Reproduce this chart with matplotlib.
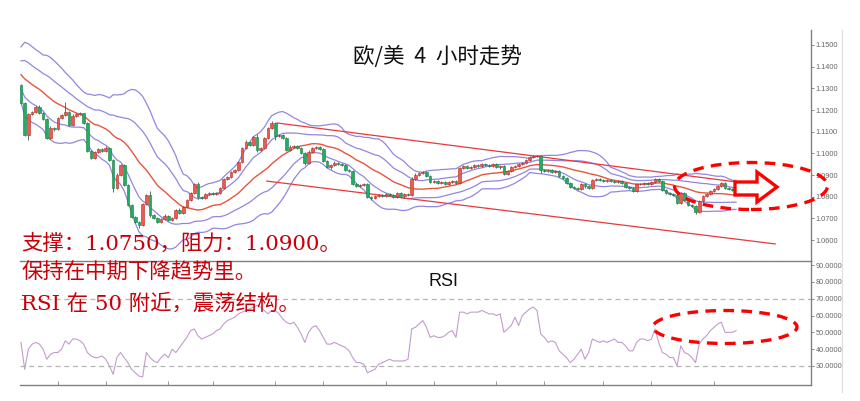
import matplotlib
matplotlib.use('Agg')
import matplotlib.pyplot as plt
from matplotlib.patches import Ellipse, Polygon
from matplotlib.lines import Line2D
import numpy as np
import pandas as pd

# EUR/USD 4h closes, one per candle
first_open = 1.1315
closes = [
    1.1232, 1.1085, 1.1182, 1.1191, 1.1214, 1.1186, 1.1159, 1.1071, 1.1117, 1.1112,
    1.1163, 1.1177, 1.1191, 1.1131, 1.1172, 1.1182, 1.1185, 1.1140, 1.1011, 1.0979,
    1.1006, 1.1020, 1.1011, 1.1025, 1.0969, 1.0840, 1.0900, 1.0946, 1.0854, 1.0762,
    1.0706, 1.0683, 1.0669, 1.0765, 1.0808, 1.0715, 1.0702, 1.0683, 1.0697, 1.0711,
    1.0692, 1.0702, 1.0739, 1.0725, 1.0752, 1.0785, 1.0817, 1.0859, 1.0799, 1.0794,
    1.0812, 1.0817, 1.0812, 1.0817, 1.0840, 1.0882, 1.0891, 1.0914, 1.0923, 1.0960,
    1.1025, 1.1052, 1.1039, 1.1075, 1.1015, 1.1025, 1.1071, 1.1117, 1.1140, 1.1080,
    1.1085, 1.1071, 1.1015, 1.1029, 1.1034, 1.1025, 1.1002, 1.0955, 1.1006, 1.1025,
    1.1029, 1.1020, 1.0965, 1.0937, 1.0946, 1.0955, 1.0951, 1.0946, 1.0923, 1.0919,
    1.0859, 1.0849, 1.0854, 1.0859, 1.0799, 1.0794, 1.0803, 1.0808, 1.0803, 1.0812,
    1.0808, 1.0799, 1.0817, 1.0803, 1.0812, 1.0808, 1.0882, 1.0900, 1.0909, 1.0914,
    1.0895, 1.0868, 1.0872, 1.0863, 1.0868, 1.0859, 1.0868, 1.0872, 1.0863, 1.0932,
    1.0942, 1.0932, 1.0937, 1.0946, 1.0942, 1.0951, 1.0946, 1.0942, 1.0951, 1.0937,
    1.0942, 1.0905, 1.0919, 1.0937, 1.0942, 1.0951, 1.0955, 1.0969, 1.0983, 1.0988,
    1.0988, 1.0923, 1.0919, 1.0923, 1.0914, 1.0919, 1.0895, 1.0886, 1.0863, 1.0845,
    1.0840, 1.0836, 1.0859, 1.0849, 1.0840, 1.0877, 1.0882, 1.0877, 1.0872, 1.0877,
    1.0872, 1.0868, 1.0872, 1.0863, 1.0845, 1.0840, 1.0826, 1.0859, 1.0859, 1.0863,
    1.0859, 1.0868, 1.0882, 1.0872, 1.0831, 1.0817, 1.0812, 1.0808, 1.0771, 1.0817,
    1.0785, 1.0762, 1.0757, 1.0729, 1.0780, 1.0803, 1.0812, 1.0826, 1.0836, 1.0849,
    1.0863, 1.0840, 1.0836, 1.0831, 1.0831,
]
# closes before the first visible candle (only feed the 20-bar bands at the left edge)
lead_closes = [1.1465, 1.1450, 1.1460, 1.1430, 1.1415, 1.1420, 1.1395, 1.1380, 1.1390, 1.1365,
               1.1350, 1.1360, 1.1335, 1.1320, 1.1330, 1.1305, 1.1290, 1.1300, 1.1270]
# wick lengths in pips above / below the body
upper_wick = [
    4, 3, 5, 6, 4, 8, 3, 4, 10, 6, 5, 6, 46, 5, 8, 4, 6, 3, 4, 6,
    6, 5, 4, 8, 3, 5, 10, 6, 4, 3, 3, 4, 5, 8, 6, 20, 4, 5, 6, 8,
    4, 6, 5, 8, 4, 5, 4, 6, 10, 5, 4, 6, 3, 5, 4, 6, 5, 4, 6, 5,
    6, 8, 5, 6, 15, 4, 6, 5, 8, 4, 6, 5, 4, 8, 6, 5, 4, 3, 8, 6,
    5, 4, 3, 6, 5, 8, 4, 5, 3, 4, 4, 6, 5, 4, 3, 5, 6, 4, 5, 4,
    4, 5, 6, 4, 5, 3, 8, 10, 6, 5, 4, 5, 6, 4, 5, 4, 6, 5, 4, 5,
    6, 5, 4, 6, 5, 4, 6, 5, 4, 5, 4, 5, 6, 5, 4, 5, 6, 4, 5, 4,
    5, 6, 4, 5, 4, 6, 5, 4, 3, 5, 4, 5, 6, 4, 5, 6, 4, 5, 4, 5,
    4, 6, 5, 4, 5, 4, 3, 6, 5, 4, 5, 4, 6, 4, 3, 5, 4, 3, 12, 5,
    4, 5, 3, 4, 5, 4, 5, 4, 6, 5, 4, 5, 3, 4, 3,
]
lower_wick = [
    5, 4, 23, 6, 5, 4, 5, 6, 4, 8, 6, 4, 5, 7, 4, 6, 5, 4, 5, 6,
    5, 4, 6, 5, 4, 20, 5, 6, 4, 5, 6, 5, 14, 4, 5, 8, 6, 5, 4, 6,
    5, 4, 6, 5, 4, 5, 4, 6, 8, 5, 4, 5, 6, 4, 5, 4, 6, 5, 4, 5,
    5, 4, 6, 5, 8, 4, 5, 6, 4, 20, 5, 6, 4, 5, 4, 6, 5, 8, 5, 4,
    5, 4, 6, 5, 8, 4, 5, 4, 6, 5, 4, 5, 6, 4, 5, 8, 4, 5, 6, 4,
    5, 4, 6, 5, 8, 4, 5, 4, 3, 5, 6, 5, 4, 5, 6, 4, 5, 4, 6, 5,
    4, 5, 6, 4, 5, 4, 6, 5, 4, 5, 8, 5, 4, 6, 5, 4, 5, 4, 5, 4,
    5, 12, 4, 5, 4, 6, 5, 4, 6, 5, 6, 4, 5, 8, 4, 5, 6, 4, 5, 4,
    5, 4, 6, 5, 4, 6, 5, 4, 5, 4, 4, 5, 6, 4, 5, 6, 4, 5, 6, 4,
    6, 5, 4, 8, 5, 4, 5, 4, 3, 5, 4, 5, 4, 3, 4,
]
rsi = [
    44, 28, 40, 43, 44, 43, 40, 34, 37, 38, 38, 40, 45, 43, 46, 46, 45, 43, 38, 36,
    35, 35, 36, 34, 30, 25, 35, 38, 35, 32, 28, 26, 24, 23.5, 38, 35, 33, 32, 35, 37,
    35, 40, 38, 41, 44, 47, 51, 52, 48, 46, 47, 48, 49, 51, 52, 55, 57, 58, 59, 61,
    62, 63, 64, 65, 66, 65, 63, 61, 63, 63, 61, 58, 56, 55, 56, 53, 49, 44, 50, 53,
    54, 51, 47, 43, 43, 44, 43, 42, 41, 39, 35, 32, 32, 31, 26, 27, 28, 31, 32, 33,
    34, 33, 33, 33, 33, 34, 52, 53, 55, 57, 53, 47, 48, 47, 47, 48, 50, 51, 47, 62,
    62, 61, 62, 62, 62, 63, 62, 61, 61, 60, 61, 50, 52, 54, 59, 54, 60, 62, 64, 65,
    63, 49, 47, 44, 45, 44, 39, 37, 35, 32, 34, 37, 40, 34, 38, 46, 45, 44, 45, 44,
    45, 46, 44, 44, 42, 39, 39, 44, 46, 46, 45, 46, 52, 44, 38, 37, 35, 35, 30, 42,
    38, 37, 35, 32, 43, 46, 48, 51, 53, 55, 56, 50, 50, 50, 51,
]

# down-channel lines (candle index, price)
chan_x = [69.5, 204.6]
chan_top = [1.1140, 1.0845]
chan_x_low = [66.7, 204.6]
chan_bottom = [1.0872, 1.0582]

price_ticks = [1.06, 1.07, 1.08, 1.09, 1.10, 1.11, 1.12, 1.13, 1.14, 1.15]
rsi_ticks = [30, 40, 50, 60, 70, 80, 90]
session_ticks = [10, 23, 40, 52, 69, 82, 99, 112, 129, 142, 158, 171, 188]

W, H = 860, 401
fig = plt.figure(figsize=(W / 100, H / 100), dpi=100)
fig.patch.set_facecolor('white')

def fx(px):
    return px / W

def fy(py):
    return 1 - py / H

ax = fig.add_axes([fx(20), fy(261), fx(811) - fx(20), fy(30) - fy(261)])
ax2 = fig.add_axes([fx(20), fy(385), fx(811) - fx(20), fy(261) - fy(385)])

n = len(closes)
idx = np.arange(n)
c = np.array(closes)
o = np.concatenate([[first_open], c[:-1]])
hi = np.maximum(o, c) + np.array(upper_wick) * 0.0001
lo = np.minimum(o, c) - np.array(lower_wick) * 0.0001
up = c >= o

# 20-bar bands, 1 and 2 standard deviations
series = pd.Series(lead_closes + closes)
k = len(lead_closes)
mid = series.rolling(20).mean().to_numpy()[k:]
sd = series.rolling(20).std(ddof=0).to_numpy()[k:]

band_col = '#9187e0'
for m in (2, 1, -1, -2):
    ax.plot(idx, mid + m * sd, color=band_col, lw=0.9)
ax.plot(idx, mid, color='#e8553f', lw=1.0)

# channel
ax.plot(chan_x, chan_top, color='#e8383a', lw=0.9)
ax.plot(chan_x_low, chan_bottom, color='#e8383a', lw=0.9)

# candles
ax.vlines(idx, lo, hi, color='#555555', lw=0.6, zorder=3)
body_h = np.maximum(np.abs(c - o), 0.00012)
body_b = np.minimum(o, c)
ax.bar(idx[up], body_h[up], bottom=body_b[up], width=0.72, color='#ec5a50',
       edgecolor='#b02a25', linewidth=0.4, zorder=4)
ax.bar(idx[~up], body_h[~up], bottom=body_b[~up], width=0.72, color='#1fae62',
       edgecolor='#147a43', linewidth=0.4, zorder=4)

xmin = (20 - 21) / 3.686
xmax = (811 - 21) / 3.686
ax.set_xlim(xmin, xmax)
ax.set_ylim(1.05032, 1.15692)

# RSI
ax2.plot(idx, rsi, color='#c39ccc', lw=0.8)
ax2.axhline(70, color='#b5b5b5', lw=0.9, ls=(0, (4, 3)))
ax2.axhline(30, color='#b5b5b5', lw=0.9, ls=(0, (4, 3)))
ax2.set_xlim(xmin, xmax)
ax2.set_ylim(18.7, 92.4)

tick_font = dict(family='Liberation Sans', size=5.3, color='#666666')
for a, ticks in [(ax, price_ticks), (ax2, rsi_ticks)]:
    a.yaxis.tick_right()
    a.set_yticks(ticks)
    a.set_yticklabels(['{:.4f}'.format(t) for t in ticks], fontdict=tick_font)
    a.tick_params(axis='y', direction='out', length=2, width=0.6, color='#777777', pad=1.5)
    for s in ['left', 'top']:
        a.spines[s].set_visible(False)
    a.spines['right'].set_color('#808080')
    a.spines['right'].set_linewidth(1.0)
    a.spines['bottom'].set_color('#808080')
    a.spines['bottom'].set_linewidth(1.0)
    a.patch.set_alpha(0)

ax.set_xticks([])
ax2.set_xticks(session_ticks)
ax2.set_xticklabels([])
ax2.tick_params(axis='x', direction='in', length=3, width=0.6, color='#888888')

# frame line on the far right
fig.add_artist(Line2D([fx(842), fx(842)], [fy(30), fy(392)], color='#dddddd', lw=0.8))

# texts
cjk = ['Noto Sans CJK SC', 'DejaVu Sans']
fig.text(fx(437), fy(57), '欧/美  4  小时走势', family=cjk, size=15.5, color='#111111',
         ha='center', va='center')
red_txt = '#c8000a'
serif_cjk = ['DejaVu Serif', 'Noto Sans CJK SC']
fig.text(fx(21), fy(244), '支撑：1.0750，阻力：1.0900。', family=serif_cjk, size=15.4,
         color=red_txt, ha='left', va='center')
fig.text(fx(21), fy(273), '保持在中期下降趋势里。', family=serif_cjk, size=15.4,
         color=red_txt, ha='left', va='center')
fig.text(fx(21), fy(303), 'RSI 在 50 附近，震荡结构。', family=serif_cjk, size=15.4,
         color=red_txt, ha='left', va='center')
fig.text(fx(444), fy(282), 'RSI', family='Liberation Sans', size=13, color='#111111',
         ha='center', va='center')

# highlight ellipses and arrow
dash = (0, (3.2, 2.2))
fig.add_artist(Ellipse((fx(751), fy(186)), fx(153), 47 / H, fill=False, ec='#ff0000',
                       lw=2.4, ls=dash, zorder=10))
fig.add_artist(Ellipse((fx(725), fy(327)), fx(144), 33 / H, fill=False, ec='#ff0000',
                       lw=2.4, ls=dash, zorder=10))
arrow_px = [(735, 182), (757, 182), (757, 172), (777, 187), (757, 202), (757, 195), (735, 195)]
fig.add_artist(Polygon([(fx(x), fy(y)) for x, y in arrow_px], closed=True, fc='white',
                       ec='#ff0000', lw=2.4, zorder=11))

fig.savefig('out.png', dpi=100)
